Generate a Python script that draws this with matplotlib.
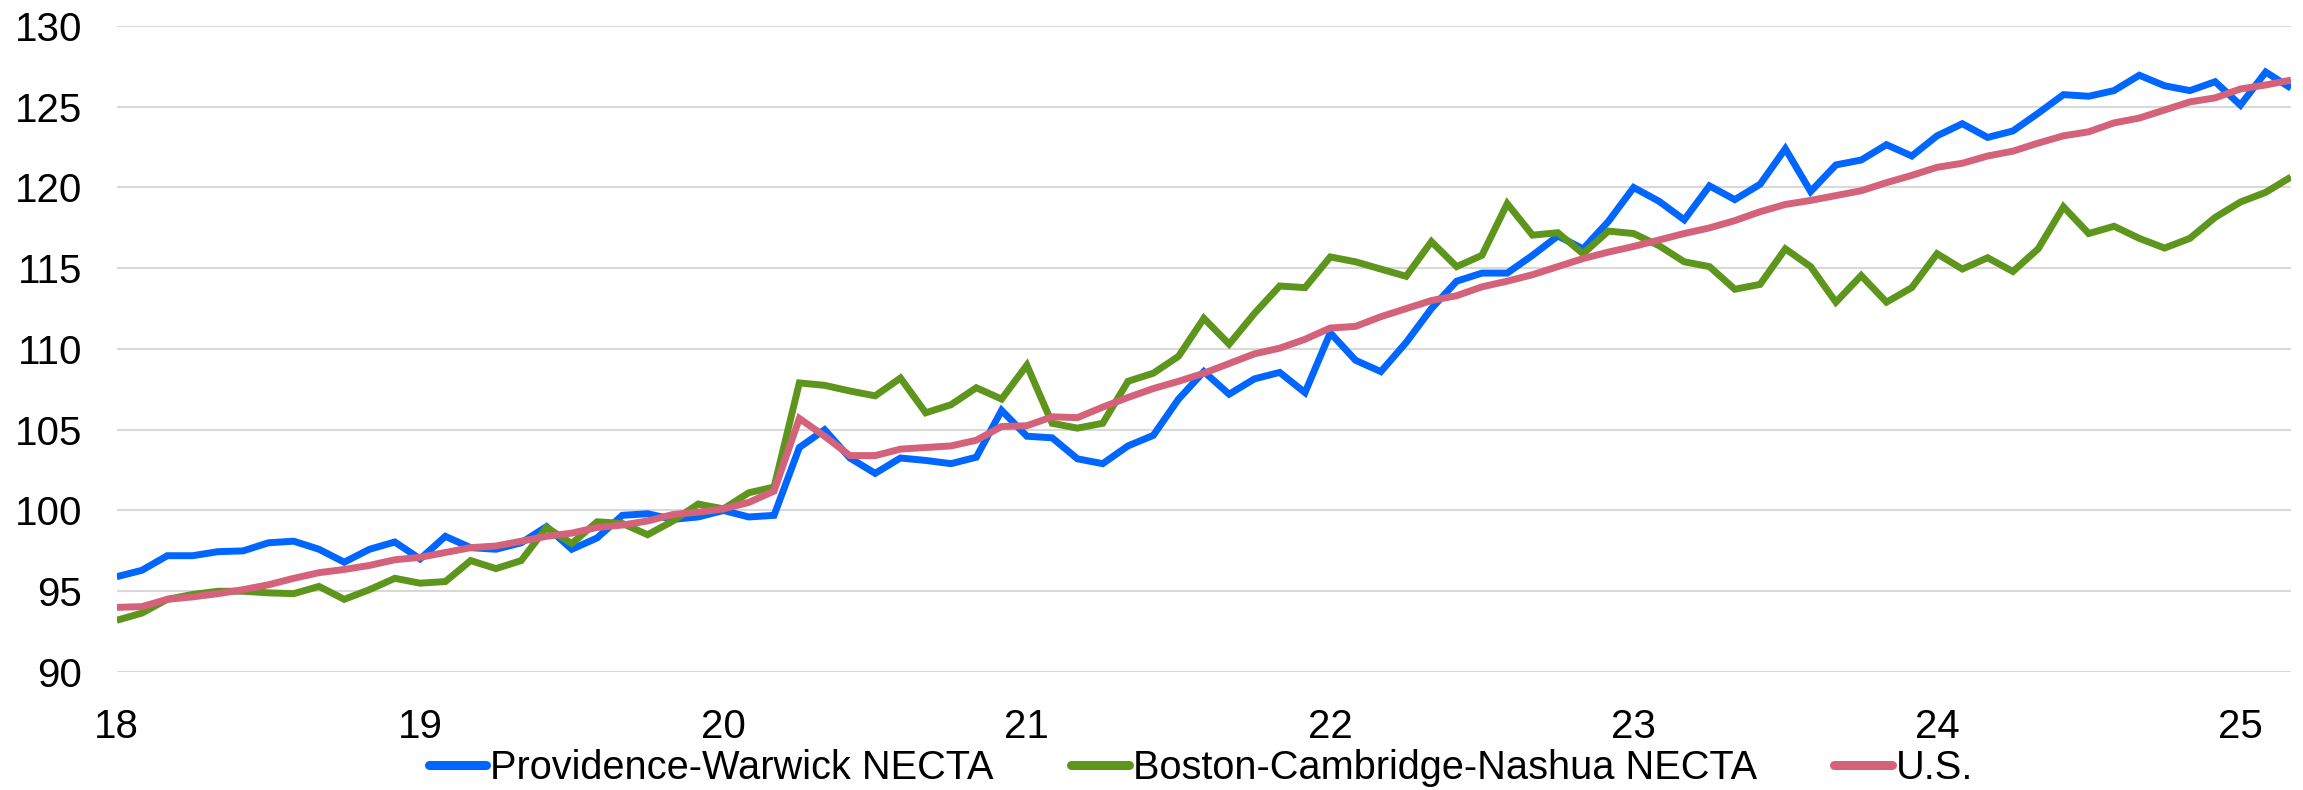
import matplotlib
matplotlib.use("Agg")
import matplotlib.pyplot as plt
import numpy as np

plt.rcParams['font.family'] = ['Liberation Sans', 'DejaVu Sans']

# Monthly, Jan 2018 .. Mar 2025
start_year = 18
n_months = 87

providence = [
    95.9, 96.3, 97.2, 97.2, 97.45, 97.5, 98.0, 98.1, 97.6, 96.8, 97.6, 98.05,
    97.0, 98.4, 97.7, 97.6, 98.0, 99.0, 97.6, 98.3, 99.7, 99.8, 99.45, 99.6,
    100.0, 99.6, 99.7, 103.9, 105.0, 103.25, 102.3, 103.25, 103.1, 102.9, 103.3, 106.2,
    104.6, 104.5, 103.2, 102.9, 104.0, 104.65, 106.9, 108.6, 107.2, 108.15, 108.55, 107.3,
    111.0, 109.3, 108.6, 110.4, 112.5, 114.2, 114.7, 114.7, 115.8, 117.0, 116.2, 117.9,
    120.0, 119.15, 118.0, 120.1, 119.25, 120.2, 122.4, 119.75, 121.4, 121.7, 122.65, 121.95,
    123.2, 123.95, 123.1, 123.5, 124.6, 125.75, 125.65, 126.0, 126.95, 126.3, 126.0, 126.55,
    125.1, 127.15, 126.15,
]

boston = [
    93.2, 93.65, 94.5, 94.8, 95.0, 95.0, 94.9, 94.85, 95.3, 94.5, 95.1, 95.8,
    95.5, 95.6, 96.9, 96.4, 96.9, 98.95, 97.95, 99.3, 99.2, 98.5, 99.35, 100.4,
    100.1, 101.1, 101.45, 107.9, 107.75, 107.4, 107.1, 108.2, 106.05, 106.55, 107.6, 106.9,
    109.0, 105.4, 105.1, 105.4, 108.0, 108.5, 109.55, 111.9, 110.3, 112.2, 113.9, 113.8,
    115.7, 115.4, 114.95, 114.5, 116.65, 115.1, 115.8, 119.0, 117.05, 117.2, 115.9, 117.3,
    117.15, 116.4, 115.4, 115.1, 113.7, 114.0, 116.2, 115.1, 112.9, 114.55, 112.9, 113.8,
    115.9, 114.95, 115.65, 114.8, 116.2, 118.8, 117.15, 117.6, 116.85, 116.25, 116.85, 118.15,
    119.1, 119.7, 120.65,
]

us = [
    94.0, 94.05, 94.5, 94.65, 94.85, 95.1, 95.4, 95.8, 96.15, 96.35, 96.6, 96.95,
    97.1, 97.4, 97.7, 97.8, 98.1, 98.4, 98.6, 98.95, 99.1, 99.35, 99.75, 99.9,
    100.1, 100.5, 101.2, 105.7, 104.6, 103.4, 103.4, 103.8, 103.9, 104.0, 104.35, 105.2,
    105.25, 105.8, 105.75, 106.4, 107.0, 107.55, 108.0, 108.5, 109.1, 109.7, 110.05, 110.6,
    111.3, 111.4, 112.0, 112.5, 113.0, 113.3, 113.85, 114.2, 114.6, 115.1, 115.6, 116.0,
    116.35, 116.75, 117.15, 117.5, 117.95, 118.5, 118.95, 119.2, 119.5, 119.8, 120.3, 120.75,
    121.25, 121.5, 121.95, 122.25, 122.75, 123.2, 123.45, 124.0, 124.3, 124.8, 125.3, 125.55,
    126.1, 126.35, 126.65,
]

labels = ["Providence-Warwick NECTA", "Boston-Cambridge-Nashua NECTA", "U.S."]
colors = ["#0066FF", "#5E951D", "#D4627A"]
year_ticks = [18, 19, 20, 21, 22, 23, 24, 25]
y_ticks = [90, 95, 100, 105, 110, 115, 120, 125, 130]

x = start_year + np.arange(n_months) / 12.0

fig = plt.figure(figsize=(23.03, 7.90), dpi=100)
ax = fig.add_axes([116.7 / 2303, 1 - 672 / 790, (2291 - 116.7) / 2303, (672 - 26) / 790])

for series, lab, col in zip([providence, boston, us], labels, colors):
    ax.plot(x, series, color=col, lw=5.0, label=lab, solid_joinstyle='miter', solid_capstyle='butt', zorder=3)

ax.set_xlim(start_year, start_year + (n_months - 1) / 12.0)
ax.set_ylim(90, 130)
ax.set_xticks(year_ticks)
ax.set_xticklabels([str(t) for t in year_ticks])
ax.set_yticks(y_ticks)
ax.grid(axis='y', color='#D9D9D9', lw=1.5, zorder=0)
ax.set_axisbelow(True)
for s in ax.spines.values():
    s.set_visible(False)
ax.tick_params(axis='both', length=0, labelsize=29, colors='black')
ax.tick_params(axis='y', pad=25)
ax.tick_params(axis='x', pad=26)

leg = fig.legend(loc='center', bbox_to_anchor=(1201 / 2303, 1 - 768 / 790), ncol=3, frameon=False,
                 fontsize=28.6, handlelength=1.45, handletextpad=0.1, columnspacing=1.95)
for h in leg.get_lines():
    h.set_linewidth(6.5)
    h.set_solid_capstyle('round')

fig.savefig("out.png", dpi=100, facecolor='white')
